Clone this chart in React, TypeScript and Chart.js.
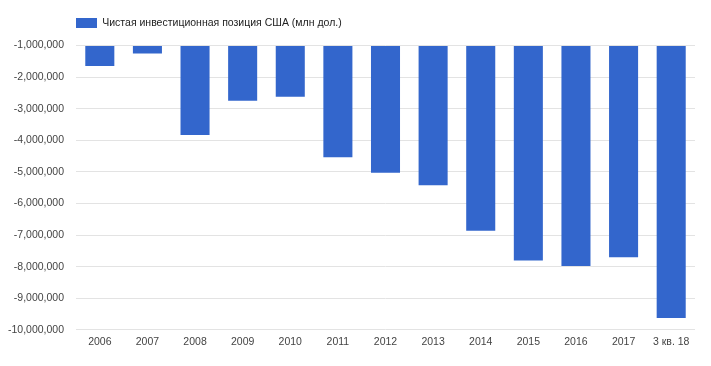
import React, { useEffect, useRef } from "react";
import { Chart, registerables } from "chart.js";

Chart.register(...registerables);

const categories = ["2006", "2007", "2008", "2009", "2010", "2011", "2012", "2013", "2014", "2015", "2016", "2017", "3 кв. 18"];
const niipValues = [-1645000, -1250000, -3830000, -2750000, -2620000, -4540000, -5030000, -5420000, -6860000, -7800000, -7980000, -7700000, -9620000];
const seriesLabel = "Чистая инвестиционная позиция США (млн дол.)";
const yMin = -10000000;
const yMax = -1000000;
const yStep = 1000000;

const FONT = "'Liberation Sans', Arial, sans-serif";
const FONT_SIZE = 10.5;
const LEGEND_PAD = 16;
const TOP_PAD = 1.75;
const LEGEND_HEIGHT = 43.75;
const Y_AXIS_WIDTH = 68;

export default function App() {
  const ref = useRef<HTMLCanvasElement | null>(null);

  useEffect(() => {
    document.body.style.margin = "0";
    const canvas = ref.current!;
    const legendTweak = {
      id: "legendTweak",
      beforeInit(chart: any) {
        const lg = chart.legend;
        if (lg) {
          const origFit = lg.fit;
          lg.fit = function () {
            origFit.call(this);
            this.height = LEGEND_HEIGHT;
          };
        }
      },
      afterLayout(chart: any) {
        if (chart.legend) {
          chart.legend.left = chart.chartArea.left - LEGEND_PAD;
        }
      },
    };
    const chart = new Chart(canvas, {
      type: "bar",
      data: {
        labels: categories,
        datasets: [
          {
            label: seriesLabel,
            data: niipValues,
            backgroundColor: "#3366cc",
            borderWidth: 0,
            base: yMax,
            categoryPercentage: 1,
            barPercentage: 0.61,
          } as any,
        ],
      },
      options: {
        responsive: false,
        animation: false,
        layout: { padding: { top: TOP_PAD, left: 8, right: 16, bottom: 11.5 } },
        plugins: {
          legend: {
            position: "top",
            align: "start",
            labels: {
              boxWidth: 21,
              boxHeight: 10,
              padding: LEGEND_PAD,
              color: "#222",
              font: { family: FONT, size: FONT_SIZE },
            },
          },
          tooltip: { enabled: false },
        },
        scales: {
          x: {
            grid: { display: false, drawTicks: false },
            border: { display: false },
            ticks: {
              color: "#444",
              font: { family: FONT, size: FONT_SIZE },
              padding: 6,
              maxRotation: 0,
              autoSkip: false,
            },
          },
          y: {
            min: yMin,
            max: yMax,
            border: { display: false },
            grid: { color: "#e3e3e3", lineWidth: 1, drawTicks: false },
            afterFit: (scale: any) => {
              scale.width = Y_AXIS_WIDTH;
            },
            ticks: {
              stepSize: yStep,
              color: "#444",
              font: { family: FONT, size: FONT_SIZE },
              padding: 12,
              callback: (v: any) => Number(v).toLocaleString("en-US"),
            },
          },
        },
      },
      plugins: [legendTweak],
    });
    return () => chart.destroy();
  }, []);

  return (
    <div style={{ position: "absolute", left: 0, top: 0, width: 711, height: 366 }}>
      <canvas ref={ref} width={711} height={366} style={{ width: 711, height: 366 }} />
    </div>
  );
}
